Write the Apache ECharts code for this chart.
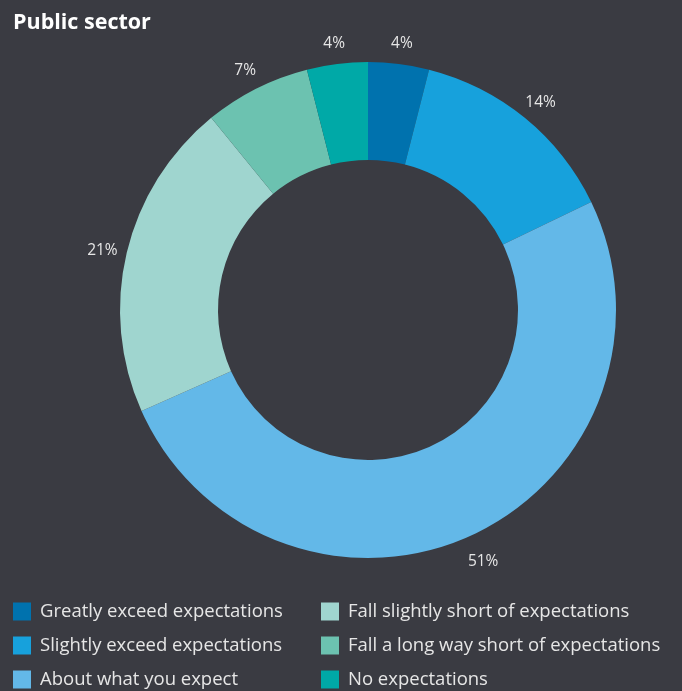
<!DOCTYPE html>
<html>
<head>
<meta charset="utf-8">
<style>
html,body{margin:0;padding:0;background:#3a3b42;}
#chart{width:682px;height:691px;}
</style>
<script src="https://cdn.jsdelivr.net/npm/echarts@6/dist/echarts.min.js"></script>
</head>
<body>
<div id="chart"></div>
<script>
const categories = [
  "Greatly exceed expectations",
  "Slightly exceed expectations",
  "About what you expect",
  "Fall slightly short of expectations",
  "Fall a long way short of expectations",
  "No expectations"
];
const values = [4, 14, 51, 21, 7, 4];
const colors = ["#0072ae", "#17a1dc", "#63b8e8", "#9fd5cf", "#6cc2b0", "#00a9a7"];

const data = categories.map((name, i) => ({ name: name, value: values[i], itemStyle: { color: colors[i] } }));
const labelData = categories.map((name, i) => ({ name: name, value: values[i] }));

const chart = echarts.init(document.getElementById('chart'), null, { renderer: 'canvas' });
const legendText = { color: '#e6e6e6', fontSize: 18.5, fontFamily: 'Open Sans', padding: [0, 0, 0, 4] };
const legendBase = {
  orient: 'vertical',
  top: 602,
  height: 90,
  padding: 0,
  itemWidth: 18,
  itemHeight: 18,
  itemGap: 15,
  icon: 'rect',
  selectedMode: false,
  textStyle: legendText
};
chart.setOption({
  backgroundColor: '#3a3b42',
  animation: false,
  title: {
    text: 'Public sector',
    left: 8,
    top: 7,
    textStyle: { color: '#ffffff', fontSize: 21.5, fontWeight: 'bold', fontFamily: 'Open Sans' }
  },
  legend: [
    Object.assign({}, legendBase, { data: categories.slice(0, 3), left: 13 }),
    Object.assign({}, legendBase, { data: categories.slice(3), left: 321 })
  ],
  series: [
    {
      type: 'pie',
      center: [368, 310],
      radius: [150, 248],
      startAngle: 90,
      clockwise: true,
      data: data,
      label: { show: false },
      labelLine: { show: false },
      itemStyle: { borderWidth: 0 },
      emphasis: { disabled: true }
    },
    {
      type: 'pie',
      center: [368, 314],
      radius: [258, 282],
      startAngle: 90,
      clockwise: true,
      silent: true,
      data: labelData,
      itemStyle: { color: 'rgba(0,0,0,0)' },
      label: {
        show: true,
        position: 'inside',
        formatter: '{c}%',
        color: '#e6e6e6',
        fontSize: 15.5,
        fontFamily: 'Open Sans'
      },
      labelLine: { show: false },
      emphasis: { disabled: true }
    }
  ]
});
</script>
</body>
</html>
